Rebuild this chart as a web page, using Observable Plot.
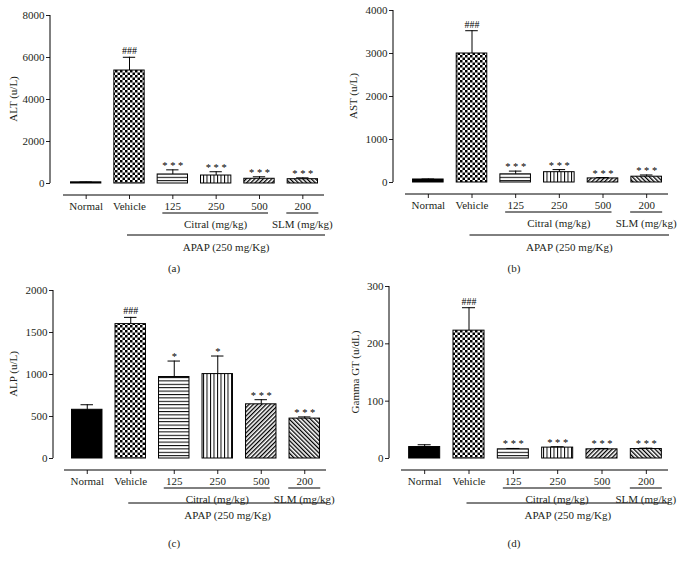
<!DOCTYPE html>
<html>
<head>
<meta charset="utf-8">
<script src="https://cdn.jsdelivr.net/npm/d3@7"></script>
<script src="https://cdn.jsdelivr.net/npm/@observablehq/plot@0.6"></script>
<style>
  html, body { margin: 0; padding: 0; background: #fff; }
  #wrap { position: relative; width: 685px; height: 565px; overflow: hidden; }
  #wrap svg { position: absolute; }
</style>
</head>
<body>
<div id="wrap"></div>
<script>
// ---- data ----
const groups = ["Normal", "Vehicle", "125", "250", "500", "200"];

const altMean  = [55, 5380, 430, 380, 225, 205];
const altUpper = [70, 6010, 650, 560, 320, 270];
const altSig   = ["", "###", "* * *", "* * *", "* * *", "* * *"];
const altTicks = [0, 2000, 4000, 6000, 8000];

const astMean  = [70, 3000, 190, 240, 95, 135];
const astUpper = [80, 3530, 265, 300, 115, 175];
const astSig   = ["", "###", "* * *", "* * *", "* * *", "* * *"];
const astTicks = [0, 1000, 2000, 3000, 4000];

const alpMean  = [580, 1600, 970, 1005, 645, 475];
const alpUpper = [640, 1680, 1160, 1220, 700, 495];
const alpSig   = ["", "###", "*", "*", "* * *", "* * *"];
const alpTicks = [0, 500, 1000, 1500, 2000];

const ggtMean  = [20, 223, 16, 19, 16, 16.5];
const ggtUpper = [24, 263, 17.5, 20.5, 17.5, 18];
const ggtSig   = ["", "###", "* * *", "* * *", "* * *", "* * *"];
const ggtTicks = [0, 100, 200, 300];

const yLabels = ["ALT (u/L)", "AST (u/L)", "ALP (u/L)", "Gamma GT (u/dL)"];
const panelLetters = ["(a)", "(b)", "(c)", "(d)"];
const citralLabel = "Citral (mg/kg)";
const slmLabel = "SLM (mg/kg)";
const apapLabel = "APAP (250 mg/Kg)";

// ---- styles ----
const patternNames = ["solid", "check", "hstripe", "vstripe", "diagf", "diagb"];
const FONT = "'Liberation Serif', 'Times New Roman', serif";
const INK = "#231f20";

function addPatterns(svg, id) {
  const defs = svg.insert("defs", ":first-child");
  let p;
  p = defs.append("pattern").attr("id", `${id}-check`).attr("patternUnits", "userSpaceOnUse").attr("width", 5).attr("height", 5);
  p.append("rect").attr("width", 5).attr("height", 5).attr("fill", "#fff");
  p.append("rect").attr("width", 2.5).attr("height", 2.5).attr("fill", "#000");
  p.append("rect").attr("x", 2.5).attr("y", 2.5).attr("width", 2.5).attr("height", 2.5).attr("fill", "#000");
  p = defs.append("pattern").attr("id", `${id}-hstripe`).attr("patternUnits", "userSpaceOnUse").attr("width", 4).attr("height", 3.4);
  p.append("rect").attr("width", 4).attr("height", 3.4).attr("fill", "#fff");
  p.append("rect").attr("width", 4).attr("height", 1).attr("fill", "#000");
  p = defs.append("pattern").attr("id", `${id}-vstripe`).attr("patternUnits", "userSpaceOnUse").attr("width", 3.5).attr("height", 4);
  p.append("rect").attr("width", 3.5).attr("height", 4).attr("fill", "#fff");
  p.append("rect").attr("width", 1).attr("height", 4).attr("fill", "#000");
  p = defs.append("pattern").attr("id", `${id}-diagf`).attr("patternUnits", "userSpaceOnUse").attr("width", 3).attr("height", 3).attr("patternTransform", "rotate(45)");
  p.append("rect").attr("width", 3).attr("height", 3).attr("fill", "#fff");
  p.append("rect").attr("width", 1.3).attr("height", 3).attr("fill", "#000");
  p = defs.append("pattern").attr("id", `${id}-diagb`).attr("patternUnits", "userSpaceOnUse").attr("width", 3).attr("height", 3).attr("patternTransform", "rotate(-45)");
  p.append("rect").attr("width", 3).attr("height", 3).attr("fill", "#fff");
  p.append("rect").attr("width", 1.3).attr("height", 3).attr("fill", "#000");
}

function patFill(id, i) {
  return patternNames[i] === "solid" ? "#000" : `url(#${id}-${patternNames[i]})`;
}

function panel(cfg) {
  const rows = groups.map((g, i) => ({g, i, mean: cfg.mean[i], upper: cfg.upper[i], sig: cfg.sig[i]}));
  const max = cfg.ticks[cfg.ticks.length - 1];
  const chart = Plot.plot({
    width: cfg.width, height: cfg.height,
    marginLeft: cfg.ml, marginRight: cfg.mr, marginTop: cfg.mt, marginBottom: cfg.mb,
    style: {fontFamily: FONT, fontSize: "11px", color: INK, background: "white", overflow: "visible"},
    x: {domain: groups, paddingInner: 0.3, paddingOuter: 0.15, insetLeft: cfg.il, round: false,
        tickSize: 4, tickPadding: 3, label: null},
    y: {domain: [0, max], ticks: cfg.ticks, tickSize: 4, tickPadding: 2, insetBottom: 12, label: null, tickFormat: d => String(d)},
    color: {type: "identity"},
    marks: [
      Plot.barY(rows, {x: "g", y: "mean", fill: d => patFill(cfg.id, d.i), stroke: "#000", strokeWidth: 1}),
      Plot.ruleX(rows, {x: "g", y1: "mean", y2: "upper", stroke: "#000", strokeWidth: 1}),
      Plot.tickY(rows, {x: "g", y: "upper", stroke: "#000", strokeWidth: 1, insetLeft: 9, insetRight: 9}),
      Plot.text(rows.filter(d => d.sig.startsWith("*")), {x: "g", y: "upper", text: "sig", lineAnchor: "bottom", dy: -1, fontSize: 10.5, fill: "#000"}),
      Plot.text(rows.filter(d => d.sig.startsWith("#")), {x: "g", y: "upper", text: "sig", lineAnchor: "bottom", dy: -3, fontSize: 10, fill: "#000"})
    ]
  });
  chart.style.left = cfg.left + "px";
  chart.style.top = cfg.top + "px";
  document.getElementById("wrap").appendChild(chart);

  const svg = d3.select(chart);
  addPatterns(svg, cfg.id);
  const sx = chart.scale("x"), sy = chart.scale("y");
  const bw = typeof sx.bandwidth === "function" ? sx.bandwidth() : sx.bandwidth;
  const cx = g => sx.apply(g) + bw / 2;
  const fb = cfg.height - cfg.mb;
  const xr = sx.range;
  const g = svg.append("g").attr("stroke", "#000").attr("stroke-width", 1);
  // axis lines
  g.append("line").attr("x1", xr[0] - 1).attr("x2", xr[1]).attr("y1", fb).attr("y2", fb);
  g.append("line").attr("x1", cfg.ml).attr("x2", cfg.ml).attr("y1", sy.apply(max)).attr("y2", sy.apply(0));
  // group underlines
  const uy = fb + 18;
  g.append("line").attr("x1", cx("125") - 10).attr("x2", cx("500") + 9).attr("y1", uy).attr("y2", uy);
  g.append("line").attr("x1", cx("200") - 16).attr("x2", cx("200") + 16).attr("y1", uy).attr("y2", uy);
  const ay = fb + cfg.apapLine;
  const ax1 = cx("Vehicle") - 2, ax2 = xr[1] + 1;
  g.append("line").attr("x1", ax1).attr("x2", ax2).attr("y1", ay).attr("y2", ay);

  const t = svg.append("g").attr("font-family", FONT).attr("font-size", 11).attr("fill", INK)
    .attr("text-anchor", "middle").attr("dominant-baseline", "central");
  t.append("text").attr("x", (cx("125") + cx("500")) / 2).attr("y", fb + 29).text(citralLabel);
  t.append("text").attr("x", cx("200")).attr("y", fb + 29).text(slmLabel);
  t.append("text").attr("x", (ax1 + ax2) / 2).attr("y", fb + cfg.apapText).text(apapLabel);
  t.append("text").attr("x", 174).attr("y", 267.5).text(cfg.letter);
  t.append("text").attr("transform", `translate(${cfg.labelX},${(sy.apply(0) + sy.apply(max)) / 2}) rotate(-90)`).text(cfg.label);
}

panel({id: "pa", left: 0, top: 0, width: 342, height: 275, ml: 50, mr: 18, mt: 15, mb: 80, il: 14,
       mean: altMean, upper: altUpper, sig: altSig, ticks: altTicks, label: yLabels[0], letter: panelLetters[0],
       labelX: 13, apapLine: 40, apapText: 52});
panel({id: "pb", left: 340, top: 0, width: 345, height: 275, ml: 53, mr: 17, mt: 10, mb: 81, il: 13,
       mean: astMean, upper: astUpper, sig: astSig, ticks: astTicks, label: yLabels[1], letter: panelLetters[1],
       labelX: 13, apapLine: 41, apapText: 53});
panel({id: "pc", left: 0, top: 275, width: 340, height: 290, ml: 53, mr: 14, mt: 15, mb: 95, il: 12,
       mean: alpMean, upper: alpUpper, sig: alpSig, ticks: alpTicks, label: yLabels[2], letter: panelLetters[2],
       labelX: 13, apapLine: 33, apapText: 45});
panel({id: "pd", left: 340, top: 275, width: 345, height: 290, ml: 49, mr: 17, mt: 11, mb: 95, il: 13,
       mean: ggtMean, upper: ggtUpper, sig: ggtSig, ticks: ggtTicks, label: yLabels[3], letter: panelLetters[3],
       labelX: 15, apapLine: 33, apapText: 45});
</script>
</body>
</html>
